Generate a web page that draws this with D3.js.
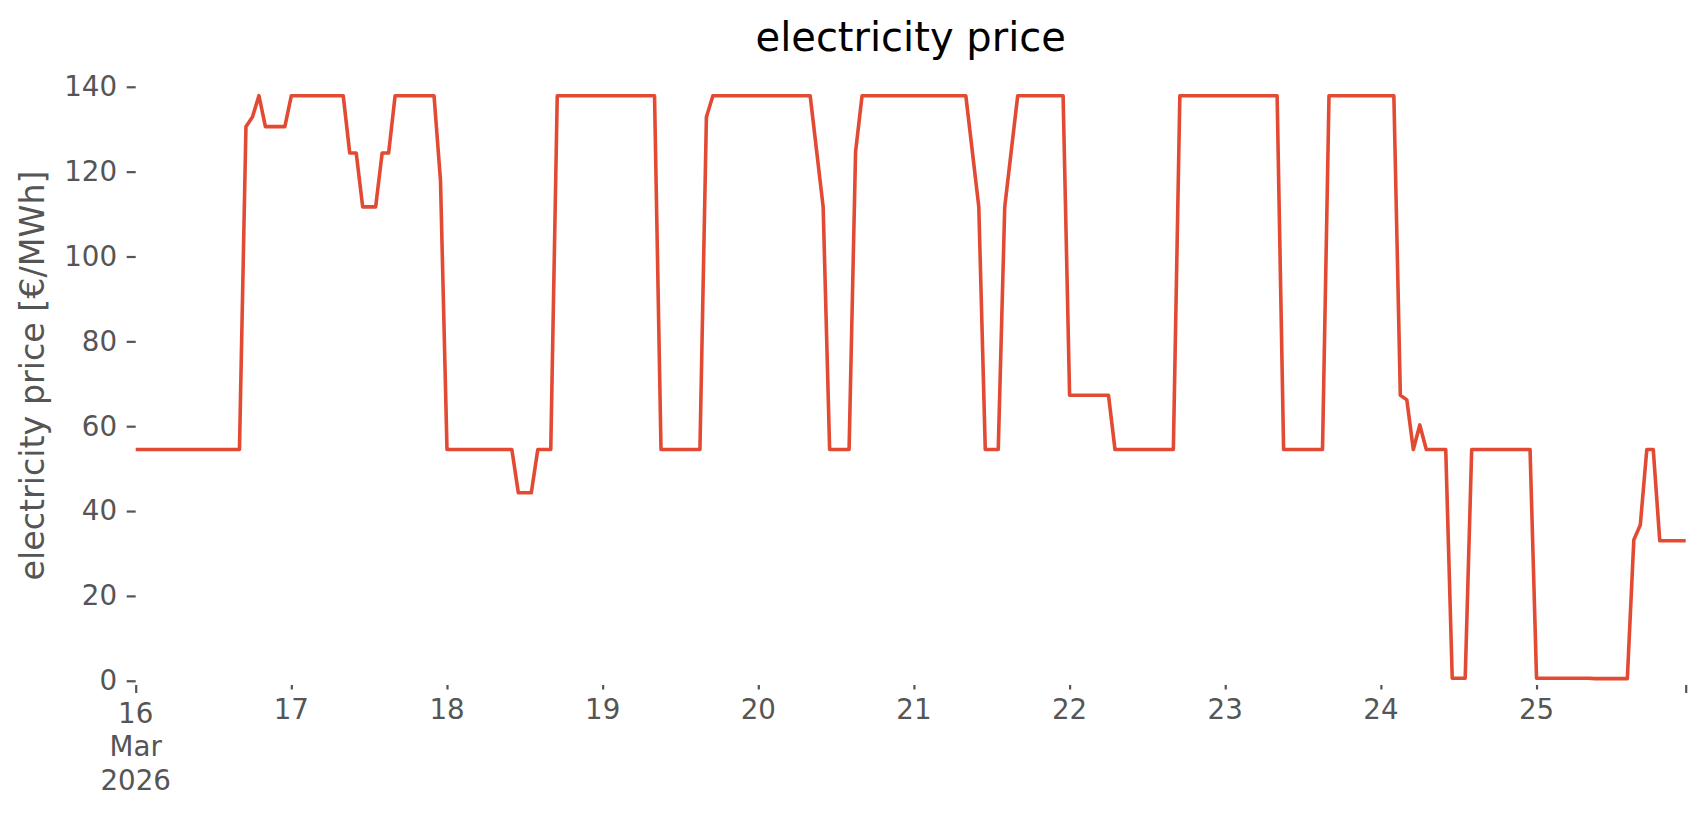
<!DOCTYPE html>
<html>
<head>
<meta charset="utf-8">
<script src="https://cdn.jsdelivr.net/npm/d3@7"></script>
<style>
  html, body { margin: 0; padding: 0; background: #ffffff; }
  svg { display: block; font-family: "DejaVu Sans", sans-serif; }
</style>
</head>
<body>
<svg id="chart" width="1706" height="815"></svg>
<script>
// ---- data (hourly electricity price, €/MWh) ----
const startYear = 2026, startMonth = 2, startDay = 16; // 16 Mar 2026, 00:00
const mar16 = [54.5,54.5,54.5,54.5,54.5,54.5,54.5,54.5,54.5,54.5,54.5,54.5,54.5,54.5,54.5,54.5,54.5,130.6,132.9,137.9,130.6,130.6,130.6,130.6];
const mar17 = [137.9,137.9,137.9,137.9,137.9,137.9,137.9,137.9,137.9,124.4,124.4,111.7,111.7,111.7,124.4,124.4,137.9,137.9,137.9,137.9,137.9,137.9,137.9,117.8];
const mar18 = [54.5,54.5,54.5,54.5,54.5,54.5,54.5,54.5,54.5,54.5,54.5,44.3,44.3,44.3,54.5,54.5,54.5,137.9,137.9,137.9,137.9,137.9,137.9,137.9];
const mar19 = [137.9,137.9,137.9,137.9,137.9,137.9,137.9,137.9,137.9,54.5,54.5,54.5,54.5,54.5,54.5,54.5,132.9,137.9,137.9,137.9,137.9,137.9,137.9,137.9];
const mar20 = [137.9,137.9,137.9,137.9,137.9,137.9,137.9,137.9,137.9,124.8,111.7,54.5,54.5,54.5,54.5,124.7,137.9,137.9,137.9,137.9,137.9,137.9,137.9,137.9];
const mar21 = [137.9,137.9,137.9,137.9,137.9,137.9,137.9,137.9,137.9,124.8,111.7,54.5,54.5,54.5,111.7,124.8,137.9,137.9,137.9,137.9,137.9,137.9,137.9,137.9];
const mar22 = [67.3,67.3,67.3,67.3,67.3,67.3,67.3,54.5,54.5,54.5,54.5,54.5,54.5,54.5,54.5,54.5,54.5,137.9,137.9,137.9,137.9,137.9,137.9,137.9];
const mar23 = [137.9,137.9,137.9,137.9,137.9,137.9,137.9,137.9,137.9,54.5,54.5,54.5,54.5,54.5,54.5,54.5,137.9,137.9,137.9,137.9,137.9,137.9,137.9,137.9];
const mar24 = [137.9,137.9,137.9,67.3,66.2,54.5,60.3,54.5,54.5,54.5,54.5,0.6,0.6,0.6,54.5,54.5,54.5,54.5,54.5,54.5,54.5,54.5,54.5,54.5];
const mar25 = [0.6,0.6,0.6,0.6,0.6,0.6,0.6,0.6,0.6,0.5,0.5,0.5,0.5,0.5,0.5,33.2,36.7,54.5,54.5,33.0,33.0,33.0,33.0,33.0];
const dailyPrices = [mar16, mar17, mar18, mar19, mar20, mar21, mar22, mar23, mar24, mar25];

const yTickValues = [0, 20, 40, 60, 80, 100, 120, 140];
const xTickDays = [16, 17, 18, 19, 20, 21, 22, 23, 24, 25];
const xTickLabels = [["16", "Mar", "2026"], ["17"], ["18"], ["19"], ["20"], ["21"], ["22"], ["23"], ["24"], ["25"]];
const titleText = "electricity price";
const yLabelText = "electricity price [€/MWh]";

(function () {
  // ---- build series ----
  const HOUR = 3600 * 1000;
  const t0 = Date.UTC(startYear, startMonth, startDay, 0);
  const series = [];
  dailyPrices.forEach((day, d) => day.forEach((v, h) => series.push({ t: new Date(t0 + (d * 24 + h) * HOUR), v })));

  // ---- layout ----
  const pL = 135.7, pR = 1685.7, pT = 66, pB = 685;
  const tickColor = "#555555";

  const svg = d3.select("#chart");
  svg.append("rect").attr("width", 1706).attr("height", 815).attr("fill", "#ffffff");

  const x = d3.scaleUtc()
    .domain([series[0].t, series[series.length - 1].t])
    .range([pL, pR]);
  const y = d3.scaleLinear().domain([-1.0, 144.9]).range([pB, pT]);

  // ---- line ----
  svg.append("clipPath").attr("id", "plotclip").append("rect")
    .attr("x", pL).attr("y", pT - 5).attr("width", pR - pL).attr("height", pB - pT + 5);

  svg.append("path")
    .datum(series)
    .attr("clip-path", "url(#plotclip)")
    .attr("fill", "none")
    .attr("stroke", "#E24A33")
    .attr("stroke-width", 3.6)
    .attr("stroke-linejoin", "round")
    .attr("stroke-linecap", "square")
    .attr("d", d3.line().x(d => x(d.t)).y(d => y(d.v)));

  // ---- y axis ----
  const yAxis = d3.axisLeft(y).tickValues(yTickValues).tickSize(9).tickPadding(9.7).tickFormat(d3.format("d"));
  const yg = svg.append("g").attr("transform", `translate(${pL},0)`).call(yAxis);
  yg.select(".domain").remove();
  yg.selectAll(".tick line").attr("stroke", tickColor).attr("stroke-width", 2.2);
  yg.selectAll(".tick text")
    .attr("fill", tickColor)
    .attr("font-size", 27.7)
    .attr("font-family", "DejaVu Sans");

  // ---- x axis ----
  const tickDates = xTickDays.map(dd => new Date(Date.UTC(startYear, startMonth, dd)));
  const xAxis = d3.axisBottom(x).tickValues(tickDates).tickSize(4.5).tickFormat("");
  const xg = svg.append("g").attr("transform", `translate(0,${pB})`).call(xAxis);
  xg.select(".domain").remove();
  xg.selectAll(".tick line").attr("stroke", tickColor).attr("stroke-width", 2.2)
    .attr("y2", (d, i) => i === 0 ? 8 : 4.5);
  xg.selectAll(".tick text").remove();
  const endTick = d3.axisBottom(x).tickValues([series[series.length - 1].t]).tickSize(8).tickFormat("");
  const eg = svg.append("g").attr("transform", `translate(0,${pB})`).call(endTick);
  eg.select(".domain").remove();
  eg.selectAll(".tick line").attr("stroke", tickColor).attr("stroke-width", 2.2);

  tickDates.forEach((dt, i) => {
    const lines = xTickLabels[i];
    const base = pB + (i === 0 ? 8 : 4.5) + 9.7 + 20;
    const t = svg.append("text")
      .attr("x", x(dt))
      .attr("y", base)
      .attr("text-anchor", "middle")
      .attr("fill", tickColor)
      .attr("font-size", 27.7);
    lines.forEach((s, k) => {
      t.append("tspan").attr("x", x(dt)).attr("y", base + k * 33.5).text(s);
    });
  });

  // ---- labels ----
  svg.append("text")
    .attr("x", (pL + pR) / 2)
    .attr("y", 51)
    .attr("text-anchor", "middle")
    .attr("fill", "#000000")
    .attr("font-size", 40)
    .text(titleText);

  svg.append("text")
    .attr("transform", `translate(44,${(pT + pB) / 2}) rotate(-90)`)
    .attr("text-anchor", "middle")
    .attr("fill", tickColor)
    .attr("font-size", 33.3)
    .text(yLabelText);
})();
</script>
</body>
</html>
